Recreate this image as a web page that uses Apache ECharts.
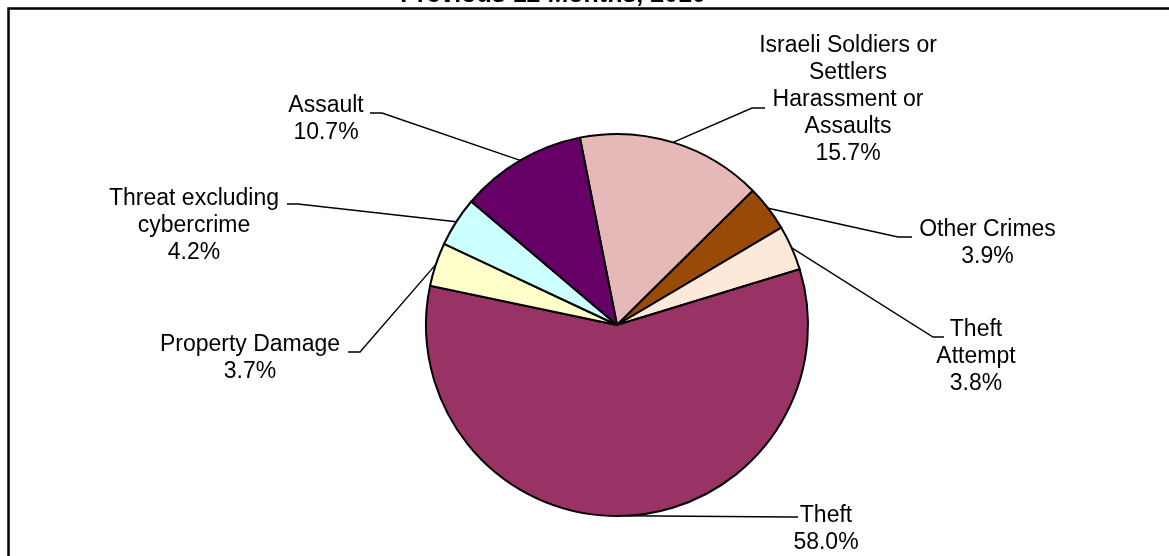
<!DOCTYPE html>
<html><head><meta charset="utf-8">
<script src="https://cdn.jsdelivr.net/npm/echarts@6/dist/echarts.min.js"></script>
<style>html,body{margin:0;padding:0;background:#fff}#c{width:1169px;height:556px}</style>
</head><body><div id="c"></div>
<script>
// ---- data ----
const titleText = 'Previous 12 Months, 2010';
const categories = [
  'Israeli Soldiers or\nSettlers\nHarassment or\nAssaults',
  'Other Crimes',
  'Theft\nAttempt',
  'Theft',
  'Property Damage',
  'Threat excluding\ncybercrime',
  'Assault'
];
const values = [15.7, 3.9, 3.8, 58.0, 3.7, 4.2, 10.7];
const colors = ['#E6B8B7', '#994A06', '#FDE9D9', '#993366', '#FFFFCC', '#CCFFFF', '#660066'];

// ---- label layout (positions of label text and leader-line elbows) ----
const labelCenters = [[848, 100], [987.5, 243], [976, 357], [826, 529], [250, 358.5], [194, 226], [326, 119]];
const leaderEnds = [
  [[752, 108], [765, 108]],
  [[898, 237], [912, 237]],
  [[933, 337], [944, 337]],
  [[790, 517], [798, 517]],
  [[360, 352], [348, 352]],
  [[298, 204], [287, 204]],
  [[382, 113], [370, 113]]
];
const pieCenter = [617, 325];
const pieRadius = 191;
const startAngle = 101.2;

const chart = echarts.init(document.getElementById('c'), null, {renderer: 'canvas'});
const total = values.reduce((a, b) => a + b, 0);

function edgePoint(i) {
  let acc = 0;
  for (let k = 0; k < i; k++) acc += values[k];
  const mid = startAngle - (acc + values[i] / 2) / total * 360;
  const rad = mid * Math.PI / 180;
  return [pieCenter[0] + pieRadius * Math.cos(rad), pieCenter[1] - pieRadius * Math.sin(rad)];
}

chart.setOption({
  animation: false,
  backgroundColor: '#fff',
  graphic: [
    {type: 'rect', z: -1, shape: {x: 8.5, y: 8.5, width: 1400, height: 800},
     style: {fill: 'none', stroke: '#000', lineWidth: 2.5}},
    {type: 'text', x: 553, y: -5.2,
     style: {text: titleText, fontFamily: 'Liberation Sans, Arial, sans-serif', fontWeight: 'bold',
             fontSize: 25, fill: '#000', textAlign: 'center', textVerticalAlign: 'middle'}}
  ],
  series: [{
    type: 'pie',
    center: pieCenter,
    radius: pieRadius,
    startAngle: startAngle,
    clockwise: true,
    avoidLabelOverlap: false,
    emphasis: {disabled: true},
    data: categories.map((n, i) => ({name: n, value: values[i], itemStyle: {color: colors[i]}})),
    itemStyle: {borderColor: '#000', borderWidth: 2},
    label: {
      show: true,
      position: 'outside',
      formatter: p => p.name + '\n' + p.value.toFixed(1) + '%',
      fontFamily: 'Liberation Sans, Arial, sans-serif',
      fontSize: 23,
      lineHeight: 27,
      color: '#000',
      align: 'center'
    },
    labelLine: {show: true, length: 10, length2: 10, lineStyle: {color: '#000', width: 1.4}},
    labelLayout: function (params) {
      const i = params.dataIndex;
      const p0 = edgePoint(i);
      return {
        x: labelCenters[i][0], y: labelCenters[i][1],
        align: 'center', verticalAlign: 'middle',
        labelLinePoints: [p0, leaderEnds[i][0], leaderEnds[i][1]]
      };
    }
  }]
});
</script></body></html>
